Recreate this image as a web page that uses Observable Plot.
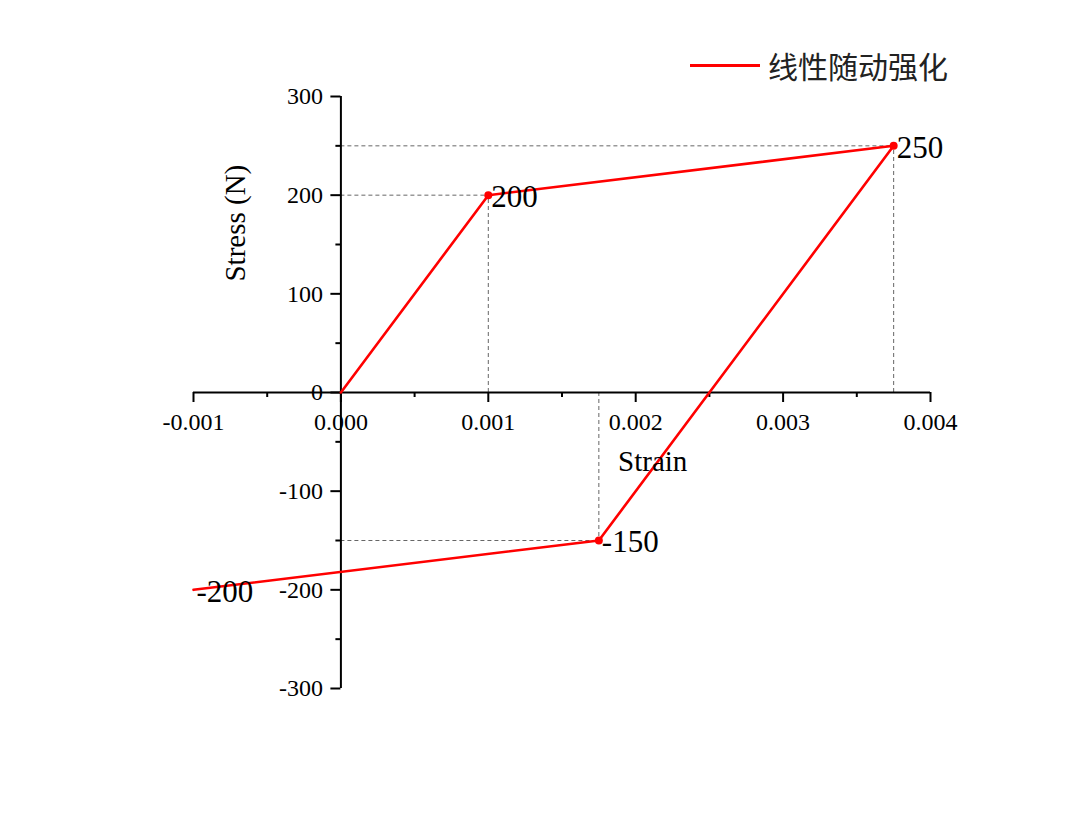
<!DOCTYPE html>
<html><head><meta charset="utf-8">
<script src="https://cdn.jsdelivr.net/npm/d3@7"></script>
<script src="https://cdn.jsdelivr.net/npm/@observablehq/plot@0.6"></script>
<style>
body{margin:0;background:#fff}
#wrap{position:relative;width:1080px;height:826px}
#wrap svg text{font-family:"Liberation Serif","Times New Roman",serif}
#legend{position:absolute;left:690px;top:45px;height:40px;display:flex;align-items:center;font-family:"Noto Sans CJK SC",sans-serif;font-size:30px;color:#222}
#legend .sw{display:inline-block;width:70px;height:0;border-top:3px solid #ff0000;margin-right:8px}
</style></head>
<body><div id="wrap"><div id="legend"><span class="sw"></span><span>线性随动强化</span></div></div>
<script>
const strain = [0, 0.001, 0.00375, 0.00175, -0.001];
const stress = [0, 200, 250, -150, -200];
const pointLabels = ["", "200", "250", "-150", "-200"];
const markedIdx = [1, 2, 3];
const xTicks = [-0.001, 0, 0.001, 0.002, 0.003, 0.004];
const xMinor = [-0.0005, 0.0005, 0.0015, 0.0025, 0.0035];
const yTicks = [-300, -200, -100, 0, 100, 200, 300];
const yMinor = [-250, -150, -50, 50, 150, 250];

const pts = strain.map((s, i) => ({strain: s, stress: stress[i], label: pointLabels[i]}));
const marked = markedIdx.map(i => pts[i]);

const serif = "Liberation Serif";
const fmtX = d => d3.format(".3f")(d).replace("\u2212", "-");
const plot = Plot.plot({
  width: 1080, height: 826,
  marginLeft: 193, marginRight: 150, marginTop: 96, marginBottom: 138,
  style: {fontFamily: serif, background: "transparent"},
  x: {domain: [-0.001, 0.004]},
  y: {domain: [-300, 300]},
  marks: [
    Plot.ruleY(marked, {y: "stress", x1: 0, x2: "strain", stroke: "#555", strokeWidth: 0.9, strokeDasharray: "4,3"}),
    Plot.ruleX(marked, {x: "strain", y1: 0, y2: "stress", stroke: "#555", strokeWidth: 0.9, strokeDasharray: "4,3"}),
    Plot.ruleY([0], {stroke: "#000", strokeWidth: 2}),
    Plot.ruleX([0], {stroke: "#000", strokeWidth: 2}),
    Plot.axisX(xTicks, {y: 0, anchor: "bottom", tickSize: 10, tickPadding: 10, strokeWidth: 2, fontSize: 24, fontFamily: serif, tickFormat: fmtX, label: null}),
    Plot.axisX(xMinor, {y: 0, anchor: "bottom", tickSize: 5, strokeWidth: 2, text: null, label: null}),
    Plot.axisY(yTicks, {x: 0, anchor: "left", tickSize: 10, tickPadding: 8, strokeWidth: 2, fontSize: 24, fontFamily: serif, tickFormat: d => String(d), label: null}),
    Plot.axisY(yMinor, {x: 0, anchor: "left", tickSize: 5, strokeWidth: 2, text: null, label: null}),
    Plot.line(pts, {x: "strain", y: "stress", stroke: "#ff0000", strokeWidth: 2.6}),
    Plot.dot(marked, {x: "strain", y: "stress", r: 4, fill: "#ff0000"}),
    Plot.text(pts, {x: "strain", y: "stress", text: d => d.label, textAnchor: "start", dx: 3, dy: 2, fontSize: 31, fontFamily: serif, fill: "#000"}),
    Plot.text(["Strain"], {x: 0.002, y: 0, text: d => d, dx: 17, dy: 69, fontSize: 29, fontFamily: serif, fill: "#000"}),
    Plot.text(["Stress (N)"], {x: 0, y: 200, text: d => d, dx: -105, dy: 28, rotate: -90, fontSize: 29, fontFamily: serif, fill: "#000"})
  ]
});
document.getElementById("wrap").appendChild(plot);
</script>
</body></html>
